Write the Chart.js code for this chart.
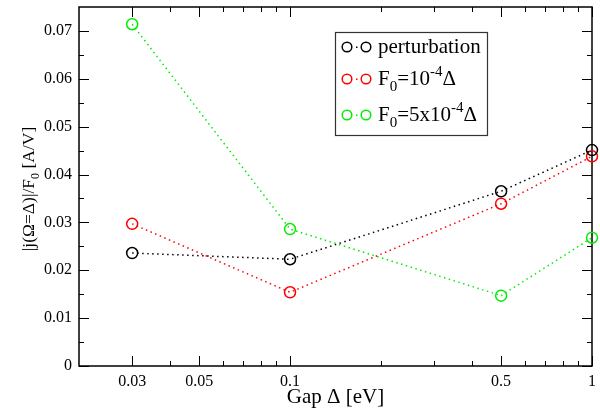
<!DOCTYPE html>
<html>
<head>
<meta charset="utf-8">
<script src="https://cdn.jsdelivr.net/npm/chart.js@4"></script>
<style>
  html, body { margin: 0; padding: 0; background: #fff; }
  #wrap { width: 600px; height: 408px; }
</style>
</head>
<body>
<div id="wrap"><canvas id="chart" width="600" height="408"></canvas></div>
<script>
// data
const gaps = [0.03, 0.1, 0.5, 1];
const perturbation = [0.0236, 0.0223, 0.0365, 0.0451];
const fieldSmall = [0.0297, 0.0154, 0.0339, 0.0438];
const fieldLarge = [0.0714, 0.0286, 0.0147, 0.0268];

const xTicks = [0.03, 0.05, 0.1, 0.5, 1];
const xMinor = [0.04, 0.06, 0.07, 0.08, 0.09, 0.2, 0.3, 0.4, 0.6, 0.7, 0.8, 0.9];
const yTicks = [0, 0.01, 0.02, 0.03, 0.04, 0.05, 0.06, 0.07];
const yMinor = [0.005, 0.015, 0.025, 0.035, 0.045, 0.055, 0.065];

const SERIF = "'Liberation Serif', 'DejaVu Serif', serif";

function points(vals) {
    return gaps.map((g, i) => ({ x: g, y: vals[i] }));
}

function series(label, vals, color) {
    return {
        label: label,
        data: points(vals),
        borderColor: color,
        backgroundColor: "rgba(0,0,0,0)",
        borderWidth: 1.5,
        borderDash: [1.5, 3.5],
        pointStyle: "circle",
        pointRadius: 5.5,
        pointBorderWidth: 1.5,
        pointBackgroundColor: "rgba(0,0,0,0)",
        pointBorderColor: color,
        tension: 0,
        clip: false
    };
}

// write text pieces: mode 0 normal, -1 subscript, 1 superscript
function richText(ctx, parts, x, y, size) {
    parts.forEach(([txt, mode]) => {
        const s = mode === 0 ? size : Math.round(size * 0.7);
        const dy = mode === 0 ? 0 : (mode < 0 ? size * 0.3 : -size * 0.45);
        ctx.font = s + "px " + SERIF;
        ctx.fillText(txt, x, y + dy);
        x += ctx.measureText(txt).width;
    });
    return x;
}

function richWidth(ctx, parts, size) {
    let w = 0;
    parts.forEach(([txt, mode]) => {
        const s = mode === 0 ? size : Math.round(size * 0.7);
        ctx.font = s + "px " + SERIF;
        w += ctx.measureText(txt).width;
    });
    return w;
}

// frame with inward ticks on all four sides, plus the y title
const framePlugin = {
    id: "frame",
    beforeDatasetsDraw(chart) {
        const { ctx, chartArea: a, scales } = chart;
        const xs = scales.x, ys = scales.y;
        ctx.save();
        ctx.strokeStyle = "#000";
        ctx.lineWidth = 1.5;
        ctx.strokeRect(a.left, a.top, a.right - a.left, a.bottom - a.top);
        ctx.lineWidth = 1;
        ctx.beginPath();
        const tickX = (v, len) => {
            const p = Math.round(xs.getPixelForValue(v)) + 0.5;
            ctx.moveTo(p, a.bottom); ctx.lineTo(p, a.bottom - len);
            ctx.moveTo(p, a.top); ctx.lineTo(p, a.top + len);
        };
        const tickY = (v, len) => {
            const p = Math.round(ys.getPixelForValue(v)) + 0.5;
            ctx.moveTo(a.left, p); ctx.lineTo(a.left + len, p);
            ctx.moveTo(a.right, p); ctx.lineTo(a.right - len, p);
        };
        xTicks.forEach(v => tickX(v, 10));
        xMinor.forEach(v => tickX(v, 5));
        yTicks.forEach(v => tickY(v, 10));
        yMinor.forEach(v => tickY(v, 5));
        ctx.stroke();

        // rotated y title
        const yTitle = [["|j(\u03a9=\u0394)|/F", 0], ["0", -1], [" [A/V]", 0]];
        const size = 17.5;
        const w = richWidth(ctx, yTitle, size);
        ctx.translate(34, 189);
        ctx.rotate(-Math.PI / 2);
        ctx.fillStyle = "#000";
        ctx.textBaseline = "alphabetic";
        richText(ctx, yTitle, -w / 2, 0, size);
        ctx.restore();
    }
};

// legend with sub/superscripts
const legendRows = [
    { color: "#000000", parts: [["perturbation", 0]] },
    { color: "#ff0000", parts: [["F", 0], ["0", -1], ["=10", 0], ["-4", 1], ["\u0394", 0]] },
    { color: "#00ee00", parts: [["F", 0], ["0", -1], ["=5x10", 0], ["-4", 1], ["\u0394", 0]] }
];

const legendPlugin = {
    id: "richLegend",
    afterDraw(chart) {
        const ctx = chart.ctx;
        const box = { x: 335, y: 32, w: 152, h: 103 };
        ctx.save();
        ctx.fillStyle = "#fff";
        ctx.fillRect(box.x, box.y, box.w, box.h);
        ctx.strokeStyle = "#333";
        ctx.lineWidth = 1.2;
        ctx.strokeRect(box.x + 0.5, box.y + 0.5, box.w, box.h);
        const rowY = [47, 79, 115];
        legendRows.forEach((row, i) => {
            const y = rowY[i];
            ctx.strokeStyle = row.color;
            ctx.lineWidth = 1.5;
            [347, 366].forEach(cx => {
                ctx.beginPath();
                ctx.arc(cx, y, 4.8, 0, Math.PI * 2);
                ctx.stroke();
            });
            ctx.fillStyle = row.color;
            ctx.fillRect(356, y - 0.5, 1.5, 1.5);
            ctx.fillStyle = "#000";
            ctx.textBaseline = "alphabetic";
            richText(ctx, row.parts, 378, y + 6, 21);
        });
        ctx.restore();
    }
};

new Chart(document.getElementById("chart"), {
    type: "line",
    data: {
        datasets: [
            series("perturbation", perturbation, "#000000"),
            series("F0=10^-4 Δ", fieldSmall, "#ff0000"),
            series("F0=5x10^-4 Δ", fieldLarge, "#00ee00")
        ]
    },
    options: {
        responsive: false,
        animation: false,
        layout: { padding: { top: 7, right: 8, left: 0, bottom: 0 } },
        plugins: {
            legend: { display: false },
            tooltip: { enabled: false }
        },
        scales: {
            x: {
                type: "logarithmic",
                min: 0.02,
                max: 1,
                afterBuildTicks: s => { s.ticks = xTicks.map(v => ({ value: v })); },
                afterFit: s => { s.height = 42; s.paddingLeft = 0; s.paddingRight = 0; },
                grid: { display: false, drawTicks: false },
                border: { display: false },
                ticks: {
                    color: "#000",
                    padding: 6,
                    maxRotation: 0,
                    autoSkip: false,
                    font: { family: SERIF, size: 16 },
                    callback: v => String(v)
                },
                title: {
                    display: true,
                    text: "Gap \u0394 [eV]",
                    color: "#000",
                    padding: { top: 0, bottom: -2 },
                    font: { family: SERIF, size: 21 }
                }
            },
            y: {
                min: 0,
                max: 0.075,
                afterBuildTicks: s => { s.ticks = yTicks.map(v => ({ value: v })); },
                afterFit: s => { s.width = 79; s.paddingTop = 0; s.paddingBottom = 0; },
                grid: { display: false, drawTicks: false },
                border: { display: false },
                ticks: {
                    color: "#000",
                    padding: 7,
                    font: { family: SERIF, size: 16 },
                    callback: v => v === 0 ? "0" : v.toFixed(2)
                },
                title: { display: false }
            }
        }
    },
    plugins: [framePlugin, legendPlugin]
});
</script>
</body>
</html>
